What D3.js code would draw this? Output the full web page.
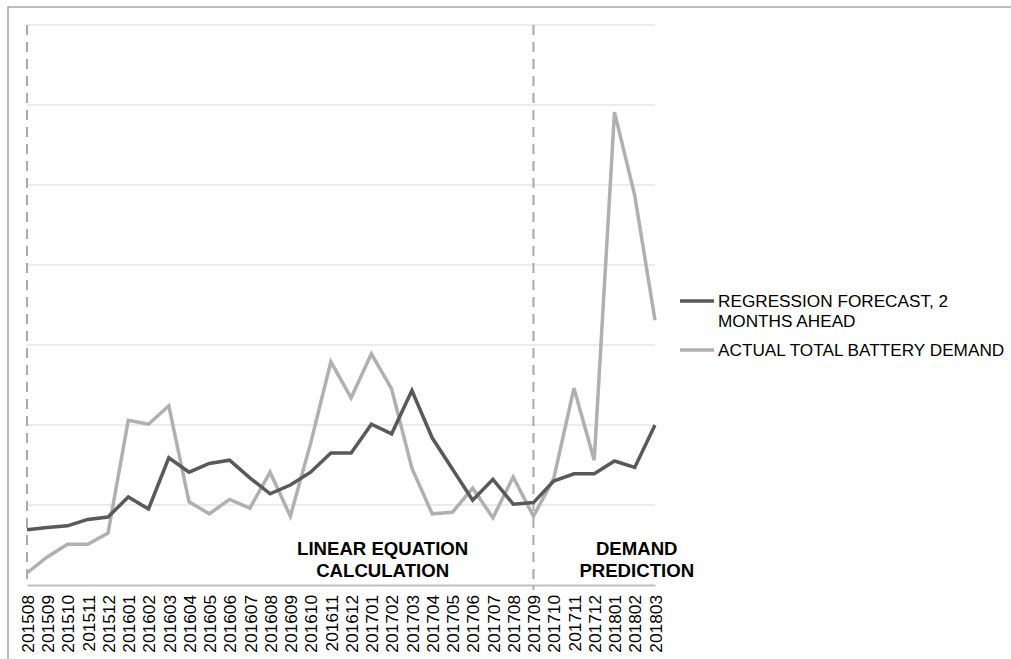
<!DOCTYPE html>
<html lang="en">
<head>
    <meta charset="UTF-8">
    <title>Battery demand forecast</title>
    <script src="https://d3js.org/d3.v7.min.js"></script>
    <style>
        body { margin: 0; background: #fff; }
        text { font-family: "Liberation Sans", Arial, sans-serif; }
    </style>
</head>
<body>
    <svg id="chart" width="1011" height="659"></svg>

    <script>
        // months on the x axis
        var months = ['201508','201509','201510','201511','201512','201601','201602','201603',
            '201604','201605','201606','201607','201608','201609','201610','201611','201612',
            '201701','201702','201703','201704','201705','201706','201707','201708','201709',
            '201710','201711','201712','201801','201802','201803']

        // regression forecast, 2 months ahead (gridline = 100)
        var forecast = [69,72,74,82,85,110,95,159,141,152,156,134,114,125,141,165,165,
            201,189,243,184,145,106,132,101,103,130,139,139,155,147,200]

        // actual total battery demand
        var actual = [15,35,51,51,65,206,201,224,104,89,107,96,141,86,177,279,234,
            289,245,146,89,91,121,84,135,86,133,246,156,591,487,331]

        var gridValues = [100,200,300,400,500,600,700]
        var splitMonth = '201709'

        var svg = d3.select('#chart'),
            x = d3.scalePoint().domain(months).range([27, 655]),
            y = d3.scaleLinear().domain([0, 700]).range([585, 25])

        // outer frame (top and left)
        svg.append('path')
            .attr('d', 'M8,660 L8,7 L1011,7')
            .attr('fill', 'none')
            .attr('stroke', '#a6a6a6')
            .attr('stroke-width', 1.5)

        // gridlines
        svg.append('g')
            .selectAll('line')
            .data(gridValues)
            .join('line')
            .attr('x1', x.range()[0]).attr('x2', x.range()[1])
            .attr('y1', d => y(d)).attr('y2', d => y(d))
            .attr('stroke', '#d9d9d9')
            .attr('stroke-width', 1)

        // x axis
        var xAxis = svg.append('g')
            .attr('transform', 'translate(0,' + y(0) + ')')
            .call(d3.axisBottom(x).tickSize(0).tickPadding(0))
        xAxis.select('.domain').attr('stroke', '#bfbfbf').attr('stroke-width', 2)
        xAxis.selectAll('.tick text')
            .attr('transform', 'rotate(-90)')
            .attr('text-anchor', 'end')
            .attr('x', -10)
            .attr('y', 0)
            .attr('dy', '0.36em')
            .attr('font-size', 17.3)
            .attr('fill', '#000')
            .style('font-family', '"Liberation Sans", Arial, sans-serif')

        // dashed section dividers
        svg.append('g')
            .selectAll('line')
            .data([months[0], splitMonth])
            .join('line')
            .attr('x1', d => x(d)).attr('x2', d => x(d))
            .attr('y1', y(700)).attr('y2', (d, i) => i ? y(0) + 5 : y(0))
            .attr('stroke', '#ababab')
            .attr('stroke-width', 2)
            .attr('stroke-dasharray', '10,7')

        // series lines
        var line = d3.line()
            .x((d, i) => x(months[i]))
            .y(d => y(d))

        svg.append('path')
            .datum(actual)
            .attr('d', line)
            .attr('fill', 'none')
            .attr('stroke', '#b0b0b0')
            .attr('stroke-width', 3.5)
            .attr('stroke-linejoin', 'miter')

        svg.append('path')
            .datum(forecast)
            .attr('d', line)
            .attr('fill', 'none')
            .attr('stroke', '#595959')
            .attr('stroke-width', 3.5)
            .attr('stroke-linejoin', 'miter')

        // section labels
        var sections = [
            {lines: ['LINEAR EQUATION', 'CALCULATION'], cx: x('201702') - 9},
            {lines: ['DEMAND', 'PREDICTION'], cx: x('201802') + 2}
        ]
        sections.forEach(function(s){
            var t = svg.append('text')
                .attr('text-anchor', 'middle')
                .attr('font-weight', 'bold')
                .attr('font-size', 18.6)
                .attr('fill', '#000')
            s.lines.forEach(function(l, i){
                t.append('tspan')
                    .attr('x', s.cx)
                    .attr('y', 555 + i * 21.5)
                    .text(l)
            })
        })

        // legend
        var legend = [
            {lines: ['REGRESSION FORECAST, 2', 'MONTHS AHEAD'], color: '#595959', y: 301},
            {lines: ['ACTUAL TOTAL BATTERY DEMAND'], color: '#b0b0b0', y: 350}
        ]
        legend.forEach(function(l){
            svg.append('line')
                .attr('x1', 680).attr('x2', 714)
                .attr('y1', l.y).attr('y2', l.y)
                .attr('stroke', l.color)
                .attr('stroke-width', 3.5)
            var t = svg.append('text')
                .attr('font-size', 17.2)
                .attr('fill', '#000')
            l.lines.forEach(function(s, i){
                t.append('tspan')
                    .attr('x', 718)
                    .attr('y', l.y + 6 + i * 20)
                    .text(s)
            })
        })
    </script>
</body>
</html>
